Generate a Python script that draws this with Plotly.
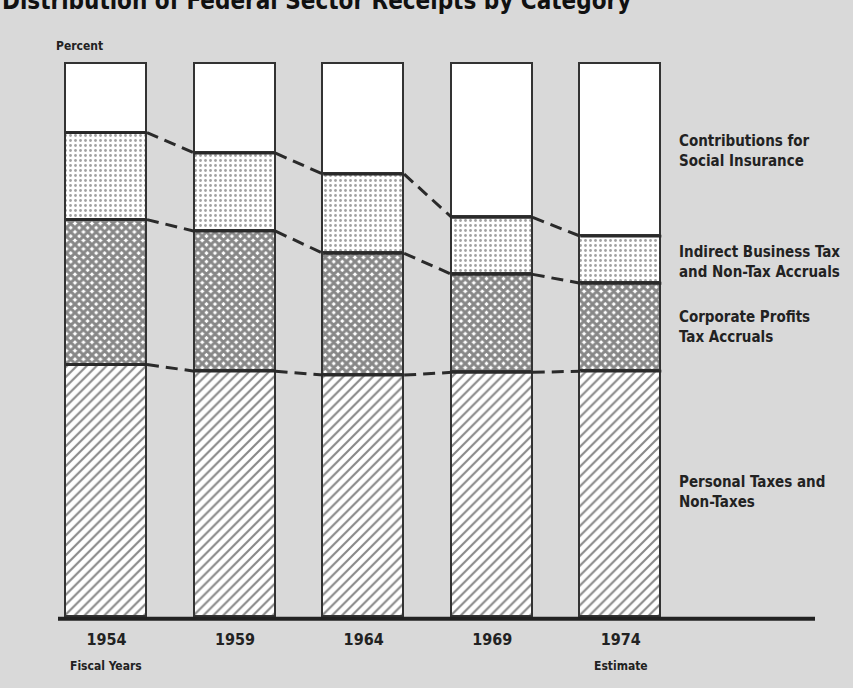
import plotly.graph_objects as go

years = ["1954", "1959", "1964", "1969", "1974"]
personal = [45.6, 44.4, 43.7, 44.2, 44.4]
corporate = [26.2, 25.3, 22.0, 17.7, 15.9]
indirect = [15.7, 14.1, 14.3, 10.3, 8.5]
contributions = [12.5, 16.2, 20.0, 27.8, 31.2]

series_names = [
    "Personal Taxes and<br>Non-Taxes",
    "Corporate Profits<br>Tax Accruals",
    "Indirect Business Tax<br>and Non-Tax Accruals",
    "Contributions for<br>Social Insurance",
]

FONT = "Liberation Sans Narrow, Arial Narrow, DejaVu Sans Condensed, sans-serif"
BG = "#d9d9d9"
W = 0.63
xs = list(range(len(years)))

fig = go.Figure()

patterns = [
    dict(shape="/", size=7, solidity=0.3, fgcolor="#111", bgcolor="white"),
    dict(shape="x", size=6, solidity=0.75, fgcolor="#111", bgcolor="white"),
    dict(shape=".", size=5, solidity=0.25, fgcolor="#444", bgcolor="white"),
    dict(shape="", bgcolor="white"),
]
values = [personal, corporate, indirect, contributions]
for name, vals, pat in zip(series_names, values, patterns):
    marker = dict(color="white", line=dict(color="#333", width=1.8))
    if pat.get("shape"):
        marker["pattern"] = pat
    fig.add_trace(go.Bar(x=xs, y=vals, width=W, name=name, marker=marker,
                         hoverinfo="skip", showlegend=False))

cums = []
run = [0.0] * len(years)
for vals in values[:-1]:
    run = [r + v for r, v in zip(run, vals)]
    cums.append(run[:])

for c in cums:
    sx, sy = [], []
    for i in xs:
        sx += [i - W / 2, i + W / 2, None]
        sy += [c[i], c[i], None]
    fig.add_trace(go.Scatter(x=sx, y=sy, mode="lines", line=dict(color="#2a2a2a", width=2.8),
                             hoverinfo="skip", showlegend=False))
    dx, dy = [], []
    for i in xs[:-1]:
        dx += [i + W / 2, i + 1 - W / 2, None]
        dy += [c[i], c[i + 1], None]
    fig.add_trace(go.Scatter(x=dx, y=dy, mode="lines",
                             line=dict(color="#2a2a2a", width=3, dash="12px,7px"),
                             hoverinfo="skip", showlegend=False))

label_y = [22.5, 52.4, 64.2, 84.2]
for name, ly in zip(series_names, label_y):
    fig.add_annotation(x=4.436, y=ly, xref="x", yref="y", text="<b>" + name + "</b>",
                       showarrow=False, xanchor="left", yanchor="middle", align="left",
                       font=dict(family=FONT, size=15, color="#222"))

fig.add_annotation(x=0, y=1, xref="paper", yref="paper", text="<b>Percent</b>",
                   showarrow=False, xanchor="left", yanchor="middle", xshift=-4, yshift=12,
                   font=dict(family=FONT, size=12, color="#222"))
fig.add_annotation(x=0, y=0, xref="x", yref="paper", text="<b>Fiscal Years</b>",
                   showarrow=False, xanchor="center", yanchor="top", yshift=-29,
                   font=dict(family=FONT, size=12, color="#222"))
fig.add_annotation(x=4, y=0, xref="x", yref="paper", text="<b>Estimate</b>",
                   showarrow=False, xanchor="center", yanchor="top", yshift=-29,
                   font=dict(family=FONT, size=12, color="#222"))
fig.add_annotation(x=0, y=1, xref="paper", yref="paper",
                   text="<b>Distribution of Federal Sector Receipts by Category</b>",
                   showarrow=False, xanchor="left", yanchor="middle", xshift=-58, yshift=57,
                   font=dict(family=FONT, size=24, color="#111"))

fig.add_shape(type="line", xref="paper", yref="y", x0=0, x1=1, y0=-0.35, y1=-0.35,
              line=dict(color="#222", width=4))

fig.update_layout(
    width=853, height=688,
    barmode="stack", bargap=0,
    paper_bgcolor=BG, plot_bgcolor=BG,
    margin=dict(l=58, r=38, t=57.5, b=60),
    xaxis=dict(range=[-0.377, 5.51], tickvals=xs, ticktext=["<b>%s</b>" % y for y in years],
               showgrid=False, zeroline=False, showline=False, ticks="",
               tickfont=dict(family=FONT, size=16, color="#222")),
    yaxis=dict(range=[-2, 101], showgrid=False, zeroline=False, showline=False,
               showticklabels=False, ticks=""),
)

fig.write_html("out.html", config={"displayModeBar": False},
               post_script="document.body.style.margin='0';document.body.style.background='%s';" % BG)
